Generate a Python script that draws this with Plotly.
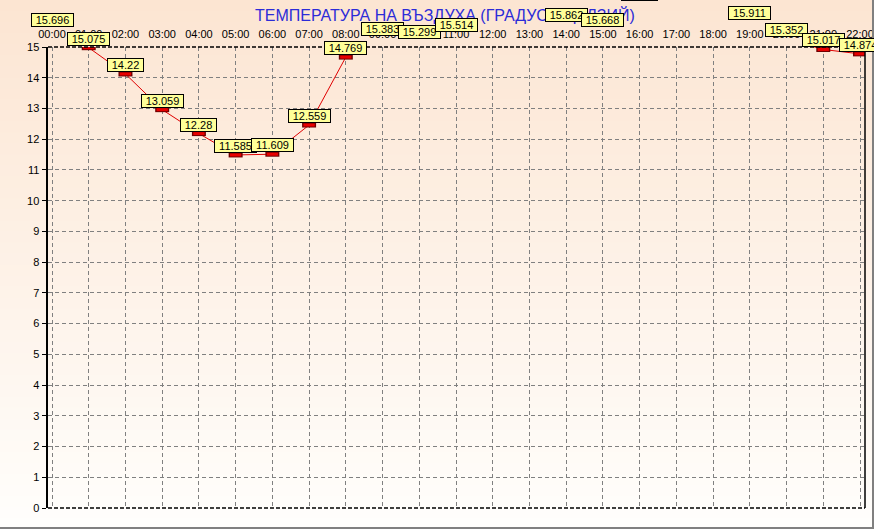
import plotly.graph_objects as go

# ---------------- data ----------------
hours = list(range(23))
hour_labels = [f"{h:02d}:00" for h in hours]
temps = [15.696, 15.075, 14.22, 13.059, 12.28, 11.585, 11.609, 12.559, 14.769,
         15.383, 15.299, 15.514, None, None, 15.862, 15.668, 16.52, None, None,
         15.911, 15.352, 15.017, 14.874]
value_labels = [None if v is None else f"{v:g}" for v in temps]
y_ticks = list(range(16))
title_text = "ТЕМПЕРАТУРА НА ВЪЗДУХА (ГРАДУСИ ЦЕЛЗИЙ)"

# ---------------- geometry / style ----------------
W, H = 874, 529
L, R, T, B = 48, 9, 0, 21
plot_w = W - L - R           # 817
plot_h = H - T - B           # 508
px_per_unit = 461 / 15.0     # y scale (0 -> 508px, 15 -> 47px)
y_dom_top = 461 / plot_h
x_range = [-0.109, 22.136]
marker_shift = 3 / px_per_unit
FONT = "Liberation Sans, Arial, sans-serif"
GRID = "#808080"

fig = go.Figure()

# main axis carrier trace
fig.add_trace(go.Scatter(x=hours, y=[None] * len(hours), xaxis="x", yaxis="y",
                         mode="lines", showlegend=False, hoverinfo="skip"))
# line + markers (on an overlay axis shifted ~3px like the original pointer drawing)
fig.add_trace(go.Scatter(x=hours, y=temps, mode="lines", xaxis="x", yaxis="y3",
                         line=dict(color="#e00000", width=1),
                         connectgaps=False, showlegend=False, hoverinfo="skip"))
fig.add_trace(go.Scatter(x=hours, y=temps, mode="markers", xaxis="x", yaxis="y3",
                         marker=dict(symbol="line-ew", size=10,
                                     line=dict(width=5, color="#700000")),
                         showlegend=False, hoverinfo="skip"))
fig.add_trace(go.Scatter(x=hours, y=temps, mode="markers", xaxis="x", yaxis="y3",
                         marker=dict(symbol="line-ew", size=8,
                                     line=dict(width=3, color="#e80000")),
                         showlegend=False, hoverinfo="skip"))
# dummy trace to instantiate the label axes
fig.add_trace(go.Scatter(x=[None], y=[None], xaxis="x2", yaxis="y2",
                         showlegend=False, hoverinfo="skip"))

# background gradient
shapes = []
top_rgb = (252, 229, 210)
bot_rgb = (255, 254, 252)
N = 48
for i in range(N):
    p0 = H * i / N
    p1 = H * (i + 1) / N + 1
    t = (i + 0.5) / N
    c = tuple(round(top_rgb[k] + (bot_rgb[k] - top_rgb[k]) * t) for k in range(3))
    shapes.append(dict(type="rect", xref="paper", yref="paper", layer="below",
                       x0=-0.1, x1=1.1,
                       y0=(plot_h - p1) / plot_h, y1=(plot_h - p0) / plot_h,
                       line=dict(width=0), fillcolor=f"rgb{c}"))
# frame lines of the plot area
shapes += [
    dict(type="line", xref="x domain", yref="y domain", x0=0, x1=1, y0=1, y1=1,
         line=dict(color="black", width=1.3, dash="4px,2px"), layer="above"),
    dict(type="line", xref="x domain", yref="y domain", x0=0, x1=1, y0=0, y1=0,
         line=dict(color="black", width=1.3, dash="4px,2px"), layer="above"),
    dict(type="line", xref="x domain", yref="y domain", x0=1, x1=1, y0=0, y1=1,
         line=dict(color="black", width=1.5), layer="above"),
]
# window border (bottom & right)
shapes += [
    dict(type="line", xref="paper", yref="paper", x0=-0.1, x1=1.1,
         y0=(plot_h - 528) / plot_h, y1=(plot_h - 528) / plot_h,
         line=dict(color="#808080", width=2)),
    dict(type="line", xref="paper", yref="paper",
         x0=(873 - L) / plot_w, x1=(873 - L) / plot_w, y0=-0.1, y1=1.1,
         line=dict(color="#808080", width=2)),
]

annotations = [dict(text=title_text, xref="paper", yref="paper",
                    x=(445 - L) / plot_w, y=(plot_h - 15) / plot_h,
                    xanchor="center", yanchor="middle", showarrow=False,
                    font=dict(family=FONT, size=16, color="#2c2cd8"))]
for h, v, lab in zip(hours, temps, value_labels):
    if v is None:
        continue
    annotations.append(dict(text=lab, xref="x2", yref="y2", x=h, y=v,
                            xanchor="center", yanchor="bottom", yshift=-1,
                            showarrow=False, bgcolor="#ffff99",
                            bordercolor="black", borderwidth=1, borderpad=0,
                            width=len(lab) * 6 + 5, height=12,
                            font=dict(family=FONT, size=11, color="black")))

fig.update_layout(
    width=W, height=H, margin=dict(l=L, r=R, t=T, b=B, pad=0, autoexpand=False),
    paper_bgcolor="#fffefc", plot_bgcolor="rgba(0,0,0,0)",
    showlegend=False, shapes=shapes, annotations=annotations,
    font=dict(family=FONT, size=11, color="black"),
    xaxis=dict(domain=[0, 1], range=x_range, side="top", anchor="y",
               automargin=False, tickmode="array",
               tickvals=hours, ticktext=hour_labels, ticks="",
               ticklabelstandoff=6,
               showgrid=True, gridcolor=GRID, griddash="4px,3px", gridwidth=1,
               zeroline=False, showline=False,
               tickfont=dict(family=FONT, size=11, color="black")),
    yaxis=dict(domain=[0, y_dom_top], range=[0, 15], anchor="x", automargin=False,
               tickmode="array", tickvals=y_ticks, ticks="outside", ticklen=4,
               tickcolor="black", showline=True, linewidth=2.5, linecolor="black",
               ticklabelstandoff=0,
               showgrid=True, gridcolor=GRID, griddash="4px,3px", gridwidth=1,
               zeroline=False, tickfont=dict(family=FONT, size=11, color="black")),
    yaxis3=dict(overlaying="y", anchor="x", range=[marker_shift, 15 + marker_shift],
                visible=False, showgrid=False, zeroline=False, automargin=False),
    xaxis2=dict(domain=[0, 1], range=x_range, anchor="y2", visible=False,
                showgrid=False, zeroline=False, automargin=False),
    yaxis2=dict(domain=[0, 1], range=[0, plot_h / px_per_unit], anchor="x2",
                visible=False, showgrid=False, zeroline=False, automargin=False),
)

fig.write_html("out.html",
               config={"displayModeBar": False, "staticPlot": True},
               post_script="document.body.style.margin='0';document.body.style.overflow='hidden';")
